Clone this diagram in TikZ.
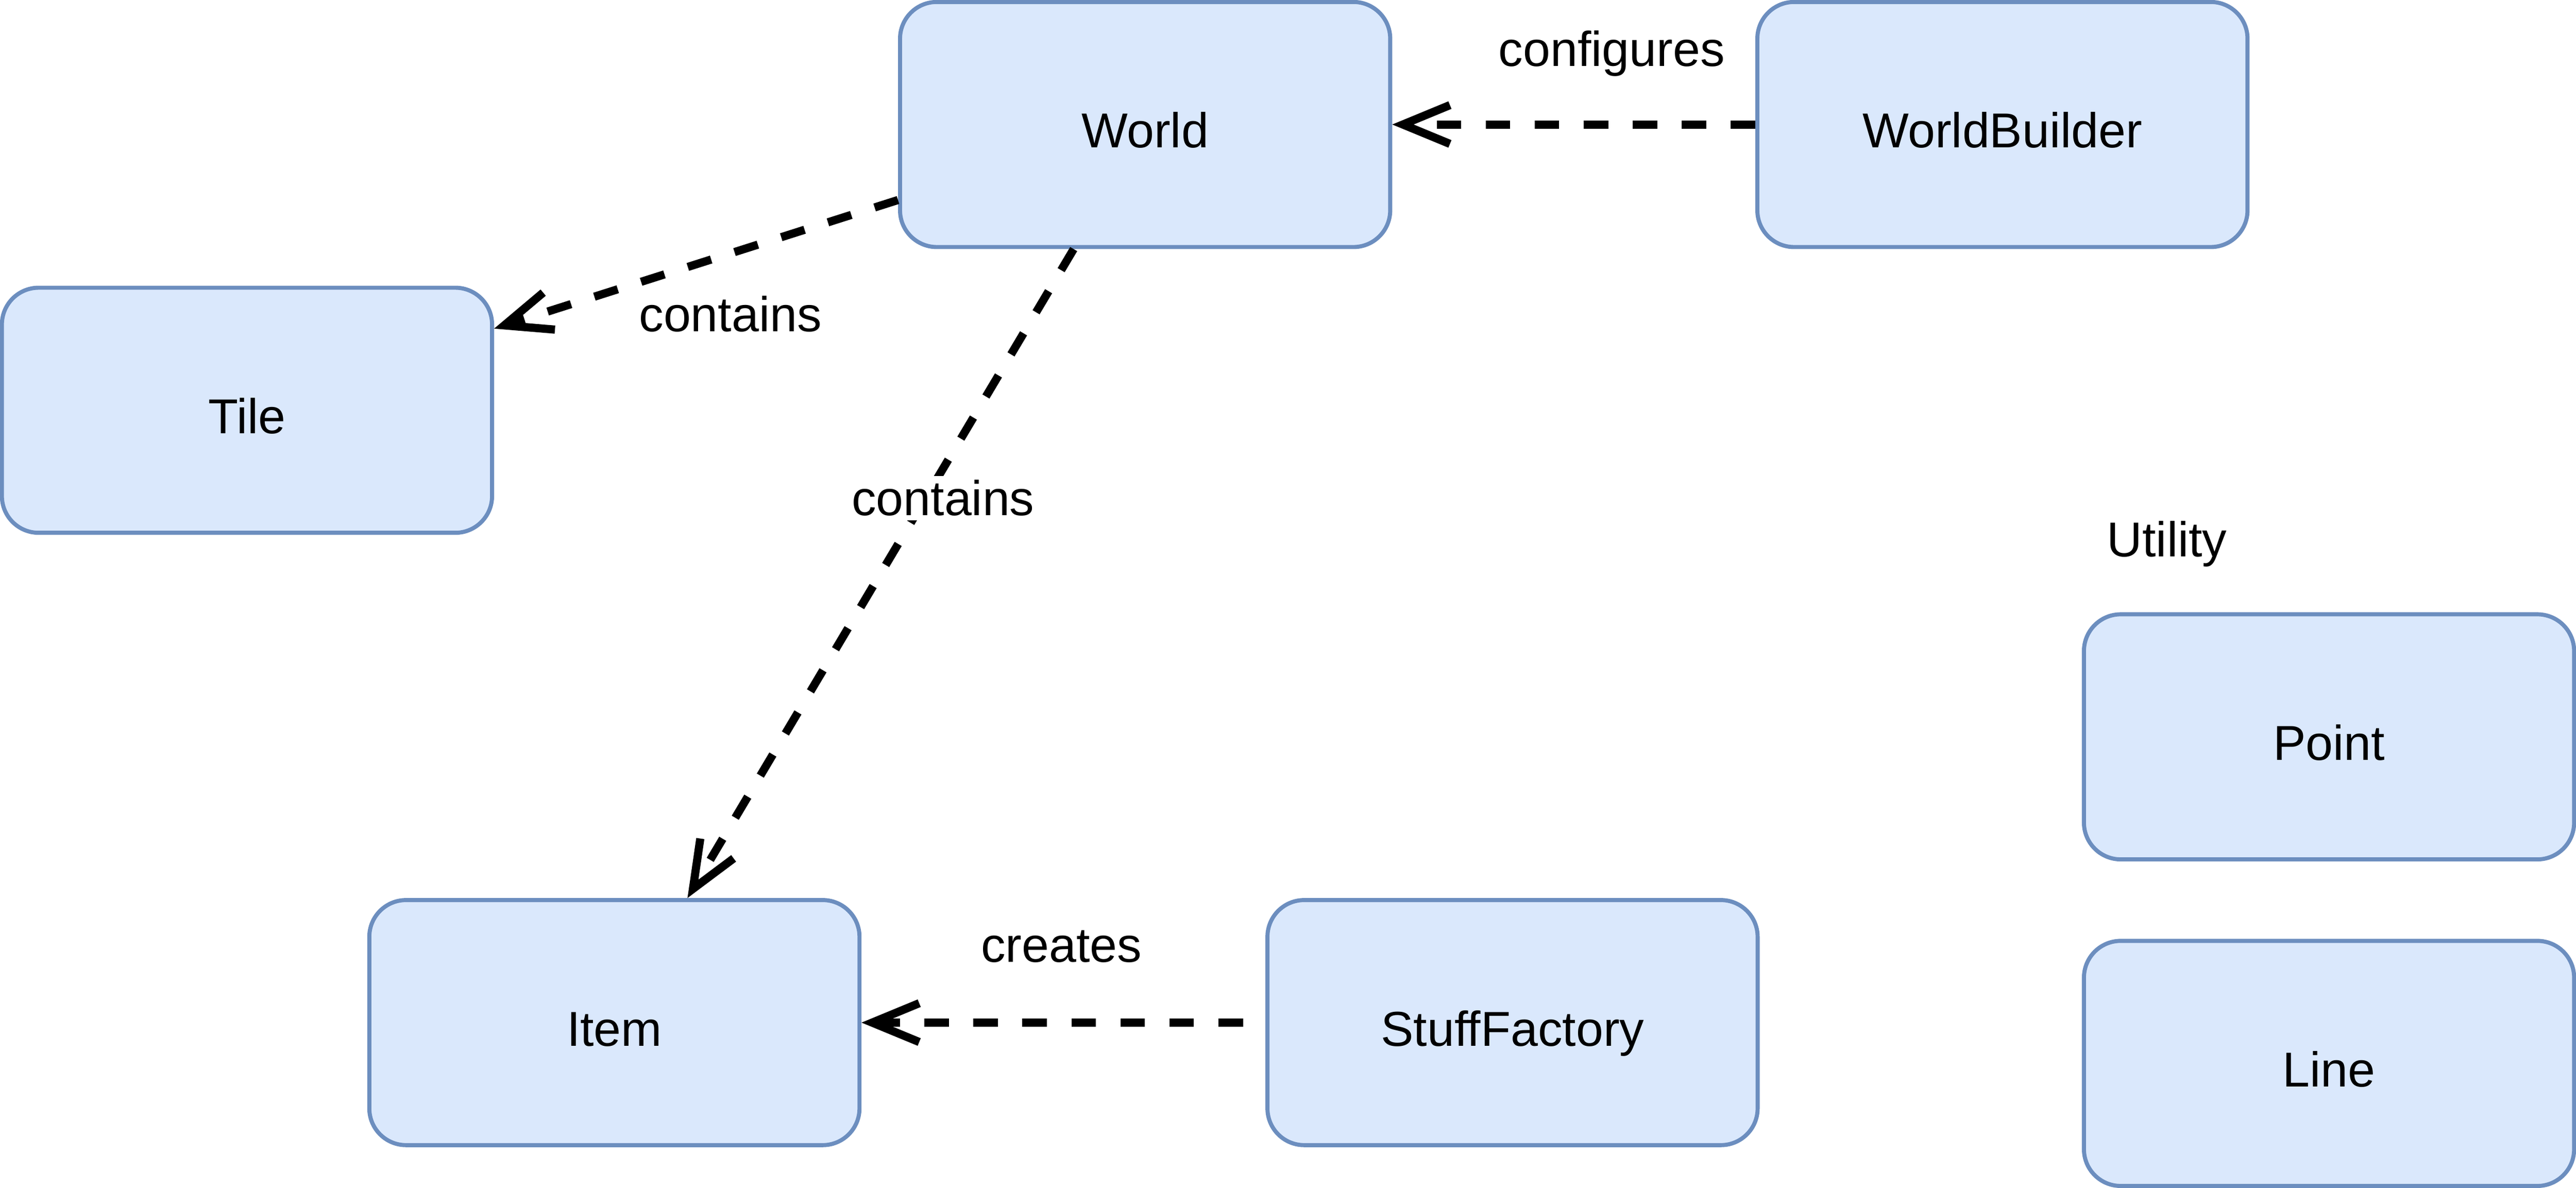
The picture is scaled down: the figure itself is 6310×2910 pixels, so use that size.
\documentclass[tikz,border=0pt]{standalone}
\usepackage{fontspec}
\setmainfont{Liberation Sans}
\usetikzlibrary{arrows.meta,calc}
\definecolor{boxfill}{HTML}{DAE8FC}
\definecolor{boxline}{HTML}{6C8EBF}
\begin{document}
\begin{tikzpicture}[x=0.01cm,y=-0.01cm,
  cls/.style={draw=boxline, fill=boxfill, line width=0.1cm, rounded corners=0.9cm,
    minimum width=12cm, minimum height=6cm, inner sep=0pt,
    text height=1.44cm, text depth=0.3cm,
    font=\fontsize{34.14pt}{41pt}\selectfont},
  lbl/.style={inner sep=0.1cm, anchor=base, font=\fontsize{34.14pt}{41pt}\selectfont},
  dep/.style={draw=black, line width=0.2cm, dash pattern=on 0.6cm off 0.6cm,
    -{Straight Barb[length=1.15cm, width=0.95cm, sharp]}}]
\useasboundingbox (0,0) rectangle (6310,2910);
\fill[white] (0,0) rectangle (6310,2910);

\node[cls] (world) at (2805,305) {World};
\node[cls] (wb) at (4905,305) {WorldBuilder};
\node[cls] (tile) at (605,1005) {Tile};
\node[cls] (item) at (1505,2505) {Item};
\node[cls] (sf) at (3705,2505) {StuffFactory};
\node[cls] (point) at (5705,1805) {Point};
\node[cls] (line) at (5705,2605) {Line};
\node[lbl] (util) at (5308,1363) {Utility};

\draw[dep] (wb.west) -- (world.east);
\node[lbl] (lconf) at (3948,162) {configures};

\draw[dep] ($(world.west)+(0,185)$) -- ($(tile.east)+(0,-200)$);
\node[lbl] (lcont1) at (1789,812) {contains};

\draw[dep] ($(world.south)+(-175,0)$) -- ($(item.north)+(179,0)$);
\node[lbl, fill=white] (lcont2) at (2310,1263) {contains};

\draw[dep] ($(sf.west)+(-55,0)$) -- (item.east);
\node[lbl] (lcreate) at (2600,2357) {creates};
\end{tikzpicture}
\end{document}
